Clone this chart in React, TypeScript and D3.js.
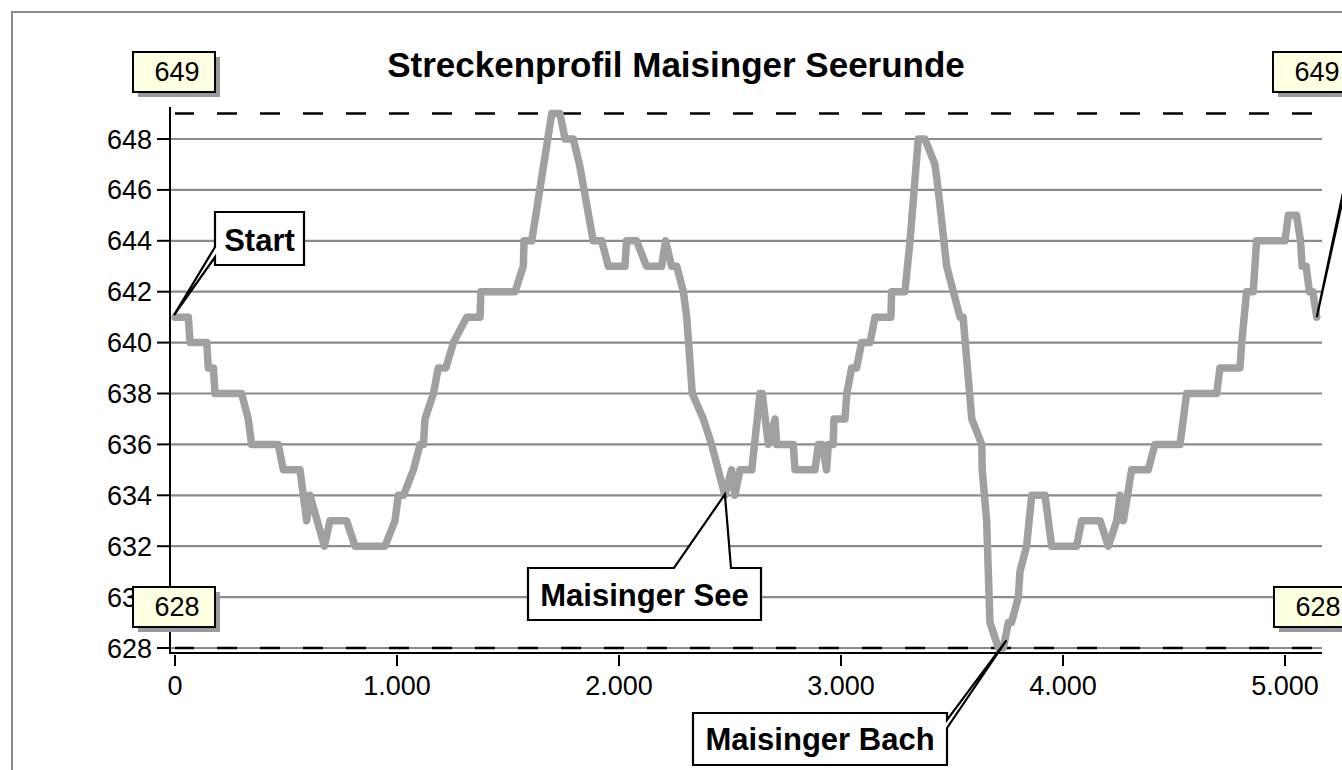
import React from "react";
import * as d3 from "d3";

// distance along the route (m)
const distances = [
  0, 60, 68, 143, 150, 173, 180, 300, 330, 345, 465, 488, 563, 593, 608, 673, 698, 773, 811, 946,
  991, 1006, 1029, 1074, 1104, 1119, 1126, 1164, 1186, 1220, 1254, 1314, 1374, 1378, 1532, 1569, 1572, 1607, 1697, 1734,
  1757, 1794, 1822, 1884, 1922, 1952, 2027, 2034, 2079, 2124, 2192, 2210, 2237, 2260, 2290, 2305, 2330, 2380, 2417, 2477,
  2507, 2522, 2545, 2598, 2635, 2645, 2673, 2703, 2710, 2785, 2793, 2883, 2898, 2915, 2935, 2943, 2965, 2968, 3018, 3026,
  3048, 3070, 3093, 3131, 3153, 3225, 3228, 3288, 3311, 3348, 3378, 3423, 3438, 3476, 3536, 3550, 3589, 3634, 3636, 3656,
  3671, 3709, 3731, 3754, 3768, 3799, 3806, 3836, 3859, 3919, 3949, 4061, 4084, 4167, 4204, 4242, 4257, 4272, 4309, 4384,
  4414, 4527, 4542, 4557, 4692, 4707, 4797, 4805, 4827, 4857, 4872, 5000, 5015, 5052, 5070, 5077, 5095, 5110, 5125, 5143,
];
// elevation (m above sea level)
const elevations = [
  641, 641, 640, 640, 639, 639, 638, 638, 637, 636, 636, 635, 635, 633, 634, 632, 633, 633, 632, 632,
  633, 634, 634, 635, 636, 636, 637, 638, 639, 639, 640, 641, 641, 642, 642, 643, 644, 644, 649, 649,
  648, 648, 647, 644, 644, 643, 643, 644, 644, 643, 643, 644, 643, 643, 642, 641, 638, 637, 636, 634,
  635, 634, 635, 635, 638, 638, 636, 637, 636, 636, 635, 635, 636, 636, 635, 636, 636, 637, 637, 638,
  639, 639, 640, 640, 641, 641, 642, 642, 644, 648, 648, 647, 646, 643, 641, 641, 637, 636, 635, 633,
  629, 628, 628, 629, 629, 630, 631, 632, 634, 634, 632, 632, 633, 633, 632, 633, 634, 633, 635, 635,
  636, 636, 637, 638, 638, 639, 639, 640, 642, 642, 644, 644, 645, 645, 644, 643, 643, 642, 642, 641,
];

const yTicks = [628, 630, 632, 634, 636, 638, 640, 642, 644, 646, 648];
const xTicks = [0, 1000, 2000, 3000, 4000, 5000];
const maxElevation = 649;
const minElevation = 628;
const title = "Streckenprofil Maisinger Seerunde";
const calloutTexts = ["Start", "Maisinger See", "Maisinger Bach"];

const FONT = "'Liberation Sans', Arial, Helvetica, sans-serif";
const deFormat = d3.formatLocale({ decimal: ",", thousands: ".", grouping: [3], currency: ["", "€"] }).format(",d");

export default function App() {
  const x = d3.scaleLinear().domain([0, 5000]).range([175, 1285]);
  const y = d3.scaleLinear().domain([628, 648]).range([648, 139]);
  const pts: [number, number][] = distances.map((d, i) => [d, elevations[i]]);
  const line = d3
    .line<[number, number]>()
    .x((d) => x(d[0]))
    .y((d) => y(d[1]));

  const axisLeft = 170;
  const axisRight = 1322;
  const axisBottom = 653;
  const axisTop = 107;
  const dataEnd = x(distances[distances.length - 1]);

  // callout apex points from data
  const startApex = [x(distances[0]) - 1, y(elevations[0]) - 2];
  const seeApex = [x(2477), y(634) - 1];
  const bachApex = [x(3745), y(628.3)];
  const endApex = [x(distances[distances.length - 1]), y(elevations[elevations.length - 1])];

  const startPath = `M215,212 H304 V265 H215 V257 L${startApex[0]},${startApex[1]} L215,247 Z`;
  const seePath = `M528,568 H674 L${seeApex[0]},${seeApex[1]} L731,568 H761 V620 H528 Z`;
  const bachPath = `M693,713 H947 V720 L${bachApex[0]},${bachApex[1]} L947,728 V765 H693 Z`;
  const endPath = `M1352,110 H1450 V165 H1352 V158 L${endApex[0]},${endApex[1]} L1352,150 Z`;

  const valueBox = (bx: number, by: number, label: string, key: string) => (
    <g key={key}>
      <rect x={bx + 5} y={by + 5} width={82} height={40} fill="#9a9a9a" />
      <rect x={bx} y={by} width={82} height={40} fill="#ffffe1" stroke="#000" strokeWidth={2} />
      <text x={bx + 44} y={by + 29} textAnchor="middle" fontSize={27} fontFamily={FONT} fill="#000">
        {label}
      </text>
    </g>
  );

  return (
    <svg
      width={1342}
      height={770}
      style={{ position: "absolute", left: 0, top: 0, background: "#fff" }}
    >
      <rect x={0} y={0} width={1342} height={770} fill="#fff" />
      {/* outer frame */}
      <rect x={12} y={12} width={1400} height={800} fill="none" stroke="#8a8a8a" strokeWidth={2} />

      {/* title */}
      <text x={676} y={77} textAnchor="middle" fontSize={35} fontWeight="bold" fontFamily={FONT} fill="#000">
        {title}
      </text>

      {/* gridlines */}
      {yTicks.map((t) => (
        <line key={"g" + t} x1={axisLeft} x2={axisRight} y1={y(t)} y2={y(t)} stroke="#8a8a8a" strokeWidth={2.2} />
      ))}

      {/* min / max dashed lines */}
      <line x1={175} x2={dataEnd} y1={y(maxElevation)} y2={y(maxElevation)} stroke="#000" strokeWidth={2.5} strokeDasharray="20 23" strokeDashoffset={1} />
      <line x1={175} x2={dataEnd} y1={y(minElevation)} y2={y(minElevation)} stroke="#000" strokeWidth={2.5} strokeDasharray="20 23" strokeDashoffset={1} />

      {/* axes */}
      <line x1={axisLeft} x2={axisLeft} y1={axisTop} y2={axisBottom + 1} stroke="#000" strokeWidth={2} />
      <line x1={axisLeft - 1} x2={axisRight} y1={axisBottom} y2={axisBottom} stroke="#000" strokeWidth={2} />
      {yTicks.map((t) => (
        <g key={"yt" + t}>
          <line x1={157} x2={axisLeft} y1={y(t)} y2={y(t)} stroke="#000" strokeWidth={2} />
          <text x={152} y={y(t) + 9.5} textAnchor="end" fontSize={27} fontFamily={FONT} fill="#000">
            {t}
          </text>
        </g>
      ))}
      {xTicks.map((t) => (
        <g key={"xt" + t}>
          <line x1={x(t)} x2={x(t)} y1={axisBottom + 2} y2={axisBottom + 13} stroke="#000" strokeWidth={2} />
          <text x={x(t)} y={695} textAnchor="middle" fontSize={27} fontFamily={FONT} fill="#000">
            {deFormat(t)}
          </text>
        </g>
      ))}

      {/* profile line */}
      <path
        d={line(pts) || ""}
        fill="none"
        stroke="#a0a0a0"
        strokeWidth={7.5}
        strokeLinejoin="round"
        strokeLinecap="round"
      />

      {/* min / max value boxes */}
      {valueBox(133, 52, String(maxElevation), "l649")}
      {valueBox(1273, 52, String(maxElevation), "r649")}
      {valueBox(133, 587, String(minElevation), "l628")}
      {valueBox(1274, 587, String(minElevation), "r628")}

      {/* callouts */}
      <path d={startPath} fill="#fff" stroke="#000" strokeWidth={2.2} strokeLinejoin="miter" />
      <text x={259.5} y={251} textAnchor="middle" fontSize={31} fontWeight="bold" fontFamily={FONT} fill="#000">
        {calloutTexts[0]}
      </text>
      <path d={seePath} fill="#fff" stroke="#000" strokeWidth={2.2} />
      <text x={644.5} y={606} textAnchor="middle" fontSize={31} fontWeight="bold" fontFamily={FONT} fill="#000">
        {calloutTexts[1]}
      </text>
      <path d={bachPath} fill="#fff" stroke="#000" strokeWidth={2.2} />
      <text x={820} y={750} textAnchor="middle" fontSize={31} fontWeight="bold" fontFamily={FONT} fill="#000">
        {calloutTexts[2]}
      </text>
      <path d={endPath} fill="#fff" stroke="#000" strokeWidth={2.2} />
    </svg>
  );
}
